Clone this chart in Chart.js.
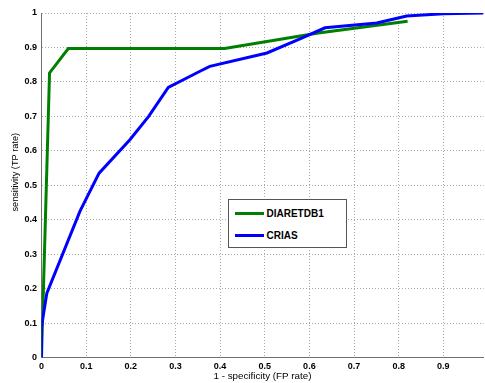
<!DOCTYPE html>
<html>
<head>
<meta charset="utf-8">
<script src="https://cdn.jsdelivr.net/npm/chart.js@4.4.1/dist/chart.umd.min.js"></script>
<style>
  html, body { margin: 0; padding: 0; background: #fff; }
  #wrap { position: relative; width: 485px; height: 383px; }
  #legend { position: absolute; left: 228px; top: 199px; width: 117px; height: 47px;
    border: 1px solid #555; background: #fff; font: bold 10px "Liberation Sans", Arial, sans-serif; color: #000; }
  .item { position: absolute; left: 5.5px; height: 12px; display: flex; align-items: center; }
  .swatch { width: 29px; height: 3px; margin-right: 3px; }
</style>
</head>
<body>
<div id="wrap">
  <canvas id="c" width="485" height="383"></canvas>
  <div id="legend"></div>
</div>
<script>
// Data
const criasX = [0, 0, 0.012, 0.086, 0.129, 0.198, 0.24, 0.284, 0.355, 0.377, 0.505, 0.579, 0.635, 0.751, 0.818, 0.9, 0.99];
const criasY = [0, 0.09, 0.187, 0.424, 0.535, 0.632, 0.70, 0.784, 0.831, 0.845, 0.884, 0.925, 0.957, 0.971, 0.991, 0.998, 1.0];
const diaretX = [0, 0.018, 0.06, 0.41, 0.62, 0.82];
const diaretY = [0, 0.826, 0.897, 0.897, 0.942, 0.976];
const xTicks = [0, 0.1, 0.2, 0.3, 0.4, 0.5, 0.6, 0.7, 0.8, 0.9];
const yTicks = [0, 0.1, 0.2, 0.3, 0.4, 0.5, 0.6, 0.7, 0.8, 0.9, 1];
const seriesNames = ['DIARETDB1', 'CRIAS'];
const seriesColors = ['#008000', '#0000ff'];
const xTitle = '1 - specificity (FP rate)';
const yTitle = 'sensitivity (TP rate)';

const toPts = (xs, ys) => xs.map((x, i) => ({ x: x, y: ys[i] }));
const fmt = v => (Math.round(v * 10) / 10).toString();
const FAM = '"Liberation Sans", Arial, sans-serif';
const tickFont = { family: FAM, size: 9, weight: 'bold' };
const titleFont = { family: FAM, size: 9.8 };
const grid = { color: '#a8a8a8', lineWidth: 1, drawTicks: false };
const border = { color: '#707070', width: 1, dash: [1, 2] };

const yTitlePlugin = {
  id: 'yTitle',
  afterDraw(chart) {
    const ctx = chart.ctx;
    const a = chart.chartArea;
    ctx.save();
    ctx.translate(15, (a.top + a.bottom) / 2 - 13);
    ctx.rotate(-Math.PI / 2);
    ctx.font = '9.2px ' + FAM;
    ctx.fillStyle = '#000';
    ctx.textAlign = 'center';
    ctx.textBaseline = 'middle';
    ctx.fillText(yTitle, 0, 0);
    ctx.restore();
  }
};

new Chart(document.getElementById('c'), {
  type: 'line',
  data: {
    datasets: [
      { label: seriesNames[1], data: toPts(criasX, criasY), borderColor: seriesColors[1], borderWidth: 3, pointRadius: 0, tension: 0, fill: false },
      { label: seriesNames[0], data: toPts(diaretX, diaretY), borderColor: seriesColors[0], borderWidth: 3, pointRadius: 0, tension: 0, fill: false }
    ]
  },
  plugins: [yTitlePlugin],
  options: {
    responsive: false,
    animation: false,
    events: [],
    layout: { padding: { top: 13, right: 1.5, left: 0, bottom: 0 } },
    plugins: { legend: { display: false }, tooltip: { enabled: false } },
    scales: {
      x: {
        type: 'linear', min: 0, max: 0.99,
        afterBuildTicks: s => { s.ticks = xTicks.map(v => ({ value: v })); },
        afterFit: s => { s.height = 25.5; },
        grid: grid,
        border: border,
        ticks: { font: tickFont, color: '#000', padding: 3.5, maxRotation: 0, autoSkip: false, callback: v => fmt(v) },
        title: { display: true, text: xTitle, font: titleFont, color: '#000', padding: { top: 0, bottom: 1 } }
      },
      y: {
        type: 'linear', min: 0, max: 1,
        afterBuildTicks: s => { s.ticks = yTicks.map(v => ({ value: v })); },
        afterFit: s => { s.width = 41.5; },
        grid: grid,
        border: border,
        ticks: { font: tickFont, color: '#000', padding: 4.5, autoSkip: false, callback: v => fmt(v) },
        title: { display: false }
      }
    }
  }
});

const leg = document.getElementById('legend');
seriesNames.forEach((n, i) => {
  const d = document.createElement('div');
  d.className = 'item';
  d.style.top = (7 + i * 22) + 'px';
  d.innerHTML = '<span class="swatch" style="background:' + seriesColors[i] + '"></span><span>' + n + '</span>';
  leg.appendChild(d);
});
</script>
</body>
</html>
